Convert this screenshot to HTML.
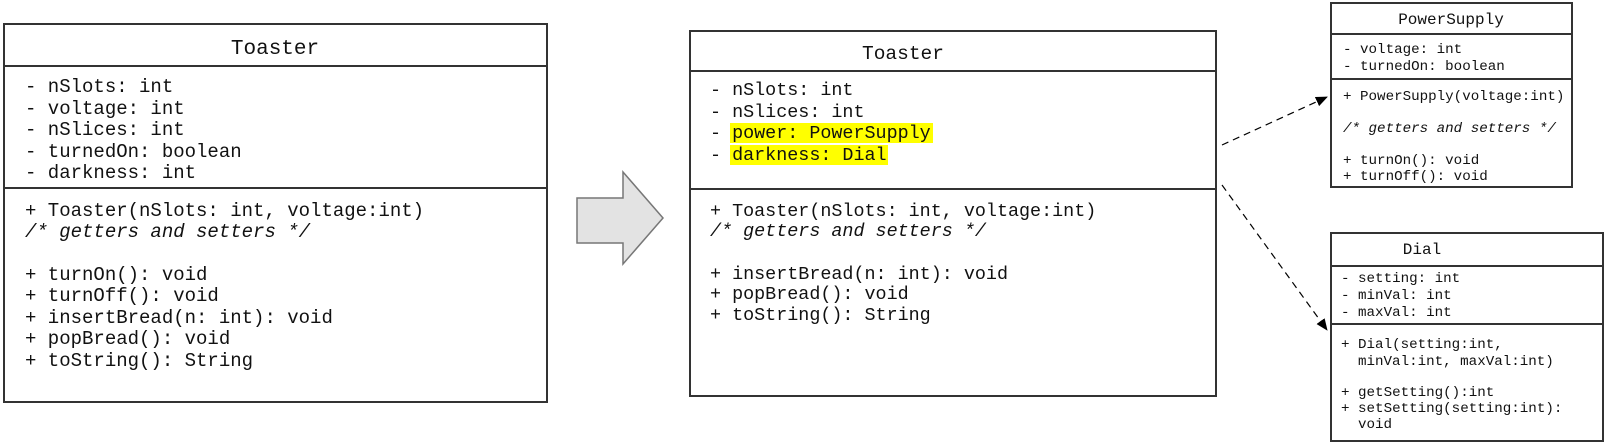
<!DOCTYPE html>
<html><head><meta charset="utf-8"><style>
html,body{margin:0;padding:0;background:#fff;}
svg{display:block;}
text{font-family:"Liberation Mono",monospace;fill:#111;}
</style></head><body>
<svg width="1606" height="446" viewBox="0 0 1606 446" xmlns="http://www.w3.org/2000/svg">
<defs>
<marker id="ah" markerWidth="12" markerHeight="10" refX="11" refY="5" orient="auto" markerUnits="userSpaceOnUse">
<path d="M0,0 L12,5 L0,10 z" fill="#000"/>
</marker>
</defs>
<g fill="none" stroke="#333" stroke-width="2">
<rect x="4" y="24" width="543" height="378"/>
<line x1="4" y1="66" x2="547" y2="66"/>
<line x1="4" y1="188" x2="547" y2="188"/>
<rect x="690" y="31" width="526" height="365"/>
<line x1="690" y1="71" x2="1216" y2="71"/>
<line x1="690" y1="189" x2="1216" y2="189"/>
<rect x="1331" y="3" width="241" height="184"/>
<line x1="1331" y1="34" x2="1572" y2="34"/>
<line x1="1331" y1="79" x2="1572" y2="79"/>
<rect x="1331" y="233" width="272" height="208"/>
<line x1="1331" y1="266" x2="1603" y2="266"/>
<line x1="1331" y1="324" x2="1603" y2="324"/>
</g>
<path d="M577,198 L623,198 L623,172 L663,218 L623,264 L623,243 L577,243 Z" fill="#e3e3e3" stroke="#777" stroke-width="1.5"/>
<line x1="1222" y1="145" x2="1327" y2="97" stroke="#000" stroke-width="1.2" stroke-dasharray="7,5" marker-end="url(#ah)"/>
<line x1="1222" y1="185" x2="1327" y2="330" stroke="#000" stroke-width="1.2" stroke-dasharray="7,5" marker-end="url(#ah)"/>

<g font-size="19">
<text x="275" y="54" text-anchor="middle" font-size="21">Toaster</text>
<text x="25" y="92">- nSlots: int</text>
<text x="25" y="114">- voltage: int</text>
<text x="25" y="135">- nSlices: int</text>
<text x="25" y="157">- turnedOn: boolean</text>
<text x="25" y="178">- darkness: int</text>
<text x="25" y="216">+ Toaster(nSlots: int, voltage:int)</text>
<text x="25" y="237" font-style="italic">/* getters and setters */</text>
<text x="25" y="280">+ turnOn(): void</text>
<text x="25" y="301">+ turnOff(): void</text>
<text x="25" y="323">+ insertBread(n: int): void</text>
<text x="25" y="344">+ popBread(): void</text>
<text x="25" y="366">+ toString(): String</text>
</g>

<rect x="730" y="123" width="203" height="20" fill="#ffff00"/>
<rect x="730" y="145" width="158" height="20" fill="#ffff00"/>
<g font-size="18.4">
<text x="903" y="59" text-anchor="middle" font-size="19.5">Toaster</text>
<text x="710" y="95">- nSlots: int</text>
<text x="710" y="117">- nSlices: int</text>
<text x="710" y="138">- power: PowerSupply</text>
<text x="710" y="160">- darkness: Dial</text>
<text x="710" y="216">+ Toaster(nSlots: int, voltage:int)</text>
<text x="710" y="236" font-style="italic">/* getters and setters */</text>
<text x="710" y="279">+ insertBread(n: int): void</text>
<text x="710" y="299">+ popBread(): void</text>
<text x="710" y="320">+ toString(): String</text>
</g>

<g font-size="14.2">
<text x="1451" y="24" text-anchor="middle" font-size="16">PowerSupply</text>
<text x="1343" y="53">- voltage: int</text>
<text x="1343" y="70">- turnedOn: boolean</text>
<text x="1343" y="100">+ PowerSupply(voltage:int)</text>
<text x="1343" y="132" font-style="italic">/* getters and setters */</text>
<text x="1343" y="164">+ turnOn(): void</text>
<text x="1343" y="180">+ turnOff(): void</text>
<text x="1422" y="254" text-anchor="middle" font-size="16">Dial</text>
<text x="1341" y="282">- setting: int</text>
<text x="1341" y="299">- minVal: int</text>
<text x="1341" y="316">- maxVal: int</text>
<text x="1341" y="348">+ Dial(setting:int,</text>
<text x="1358" y="365">minVal:int, maxVal:int)</text>
<text x="1341" y="396">+ getSetting():int</text>
<text x="1341" y="412">+ setSetting(setting:int):</text>
<text x="1358" y="428">void</text>
</g>
</svg>
</body></html>
